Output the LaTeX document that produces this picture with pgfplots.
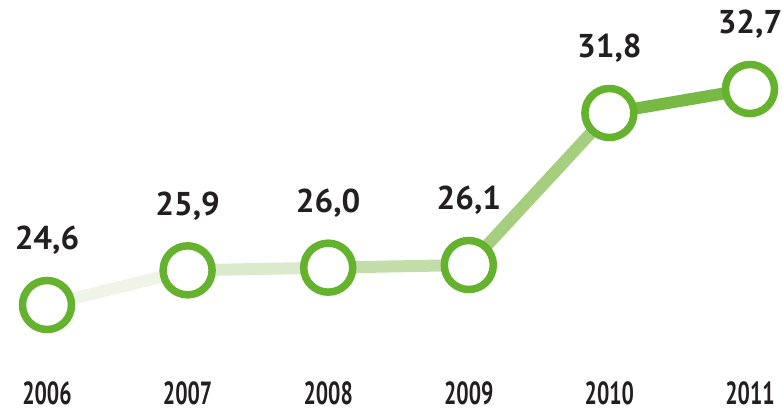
\documentclass[border=0pt]{standalone}
\usepackage{pgfplots}
\pgfplotsset{compat=1.18}
\usepackage{fontspec}
\setmainfont{PT Sans}
\definecolor{mk}{HTML}{65B22E}
\definecolor{s1}{HTML}{EEF5E8}
\definecolor{s2}{HTML}{DBEACD}
\definecolor{s3}{HTML}{C2DDA8}
\definecolor{s4}{HTML}{A5CF7E}
\definecolor{s5}{HTML}{78B946}
\definecolor{txt}{HTML}{231F20}
\begin{document}
\begin{tikzpicture}
\begin{axis}[
  /pgf/number format/assume math mode=true,
  scale only axis, width=703bp, height=216bp,
  xmin=2006, xmax=2011, ymin=24.6, ymax=32.7,
  clip=false,
  axis line style={draw=none}, tick style={draw=none},
  ytick=\empty,
  xtick={2006,2007,2008,2009,2010,2011},
  xticklabel style={anchor=base, yshift=-100bp, inner sep=0pt,
    font=\fontsize{32bp}{32bp}\selectfont\bfseries, text=txt},
  xticklabel={\scalebox{0.68}[1]{\pgfmathprintnumber[1000 sep=]{\tick}}},
]
\addplot[s1, line width=12bp] coordinates {(2006,24.6) (2007,25.9)};
\addplot[s2, line width=12bp] coordinates {(2007,25.9) (2008,26.0)};
\addplot[s3, line width=12bp] coordinates {(2008,26.0) (2009,26.1)};
\addplot[s4, line width=12bp] coordinates {(2009,26.1) (2010,31.8)};
\addplot[s5, line width=12bp] coordinates {(2010,31.8) (2011,32.7)};
\addplot[only marks, mark=*, mark size=24.5bp,
  mark options={draw=mk, fill=white, line width=7.5bp},
  nodes near coords,
  nodes near coords style={anchor=base, yshift=55bp, inner sep=0pt, text=txt,
    font=\fontsize{33bp}{33bp}\selectfont\bfseries,
    /pgf/number format/.cd, fixed, fixed zerofill, precision=1, use comma, assume math mode=true},
] coordinates {(2006,24.6) (2007,25.9) (2008,26.0) (2009,26.1) (2010,31.8) (2011,32.7)};
\coordinate (ll) at (rel axis cs:0,0);
\coordinate (ur) at (rel axis cs:1,1);
\end{axis}
\pgfresetboundingbox
\path[use as bounding box] ([shift={(-47bp,-108bp)}]ll) rectangle ([shift={(33bp,89bp)}]ur);
\end{tikzpicture}
\end{document}
